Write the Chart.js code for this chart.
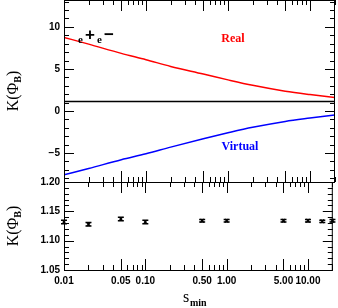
<!DOCTYPE html>
<html>
<head>
<meta charset="utf-8">
<script src="https://cdn.jsdelivr.net/npm/chart.js@4.4.1/dist/chart.umd.min.js"></script>
<style>
  body { margin: 0; background: #fff; }
  #wrap { position: relative; width: 338px; height: 308px; }
  canvas { position: absolute; left: 0; top: 0; }
</style>
</head>
<body>
<div id="wrap">
  <canvas id="topChart" width="338" height="308"></canvas>
  <canvas id="bottomChart" width="338" height="308"></canvas>
</div>
<script>
"use strict";

// Top panel: real and virtual parts vs s_min
var curveS = [0.01, 0.02, 0.05, 0.1, 0.2, 0.5, 1, 2, 5, 10, 20];
var realK = [8.75, 7.95, 6.85, 6.1, 5.3, 4.4, 3.7, 3.05, 2.35, 1.95, 1.6];
var virtualK = [-7.6, -6.85, -5.8, -5.1, -4.3, -3.3, -2.6, -1.95, -1.25, -0.85, -0.48];
var sumK = 1.13;

// Bottom panel: total with error bars
var pointS = [0.01, 0.02, 0.05, 0.1, 0.5, 1, 5, 10, 15, 20];
var pointK = [1.132, 1.128, 1.137, 1.132, 1.134, 1.134, 1.134, 1.134, 1.133, 1.134];
var pointErr = [0.003, 0.003, 0.003, 0.003, 0.002, 0.002, 0.002, 0.002, 0.002, 0.002];

// Tick labels
var xTickLabels = [0.01, 0.05, 0.1, 0.5, 1, 5, 10];
var topYTicks = [-5, 0, 5, 10];
var bottomYTicks = [1.05, 1.10, 1.15, 1.20];

var sMin = 0.01, sMax = 20.2;
var tickFont = { family: 'Liberation Sans', size: 10, weight: 'bold' };

function toXY(xs, ys) {
    return xs.map(function (x, i) { return { x: x, y: ys[i] }; });
}

// inward ticks on all four sides plus the frame
var frameTicks = {
    id: 'frameTicks',
    afterDatasetsDraw: function (chart, args, opts) {
        var ctx = chart.ctx, a = chart.chartArea;
        var xs = chart.scales.x, ys = chart.scales.y;
        ctx.save();
        ctx.strokeStyle = '#000';
        ctx.lineWidth = 1;
        function seg(x1, y1, x2, y2) {
            ctx.beginPath(); ctx.moveTo(x1, y1); ctx.lineTo(x2, y2); ctx.stroke();
        }
        for (var e = -3; e <= 2; e++) {
            for (var k = 1; k <= 9; k++) {
                var v = k * Math.pow(10, e);
                if (v < xs.min * 0.999 || v > xs.max) continue;
                var px = Math.round(xs.getPixelForValue(v)) + 0.5;
                var len = (k === 1 || k === 5) ? 11 : 5;
                seg(px, a.top, px, a.top + len);
                seg(px, a.bottom, px, a.bottom - len);
            }
        }
        var n0 = Math.ceil(ys.min / opts.minor - 1e-6);
        var n1 = Math.floor(ys.max / opts.minor + 1e-6);
        for (var i = n0; i <= n1; i++) {
            var yv = i * opts.minor;
            var r = yv / opts.major;
            var major = Math.abs(r - Math.round(r)) < 1e-6;
            var py = Math.round(ys.getPixelForValue(yv)) + 0.5;
            var l = major ? 10 : 5;
            seg(a.left, py, a.left + l, py);
            seg(a.right, py, a.right - l, py);
        }
        ctx.strokeRect(a.left + 0.5, a.top + 0.5, a.right - a.left - 1, a.bottom - a.top);
        ctx.restore();
    }
};

function drawYTitle(ctx, cx, cy) {
    ctx.save();
    ctx.translate(cx, cy);
    ctx.rotate(-Math.PI / 2);
    ctx.fillStyle = '#000';
    ctx.textBaseline = 'alphabetic';
    ctx.font = '16px "Liberation Serif"';
    var w1 = ctx.measureText('K(Φ').width;
    ctx.font = 'bold 10px "Liberation Serif"';
    var w2 = ctx.measureText('B').width;
    ctx.font = '16px "Liberation Serif"';
    var w3 = ctx.measureText(')').width;
    var x0 = -(w1 + w2 + w3) / 2;
    ctx.fillText('K(Φ', x0, 5);
    ctx.font = 'bold 10px "Liberation Serif"';
    ctx.fillText('B', x0 + w1, 8);
    ctx.font = '16px "Liberation Serif"';
    ctx.fillText(')', x0 + w1 + w2, 5);
    ctx.restore();
}

var topLabels = {
    id: 'topLabels',
    afterDraw: function (chart) {
        var ctx = chart.ctx;
        ctx.save();
        ctx.textBaseline = 'alphabetic';
        ctx.fillStyle = '#000';
        ctx.font = 'bold 11px "Liberation Serif"';
        ctx.fillText('e', 78, 43);
        ctx.fillText('e', 97, 43);
        ctx.font = 'bold 17px "Liberation Sans"';
        ctx.fillText('+', 85, 40);
        ctx.fillText('−', 104, 40);
        ctx.font = 'bold 12px "Liberation Serif"';
        ctx.textAlign = 'center';
        ctx.fillStyle = '#ff0000';
        ctx.fillText('Real', 233, 42);
        ctx.fillStyle = '#0000ff';
        ctx.fillText('Virtual', 240, 150);
        ctx.restore();
        drawYTitle(ctx, 13, 91);
    }
};

var bottomLabels = {
    id: 'bottomLabels',
    afterDatasetsDraw: function (chart) {
        var ctx = chart.ctx, xs = chart.scales.x, ys = chart.scales.y;
        ctx.save();
        ctx.strokeStyle = '#000';
        ctx.lineWidth = 1.5;
        pointS.forEach(function (s, i) {
            var px = xs.getPixelForValue(s);
            var y1 = ys.getPixelForValue(pointK[i] + pointErr[i]);
            var y2 = ys.getPixelForValue(pointK[i] - pointErr[i]);
            ctx.beginPath();
            ctx.moveTo(px, y1); ctx.lineTo(px, y2);
            ctx.moveTo(px - 3, y1); ctx.lineTo(px + 3, y1);
            ctx.moveTo(px - 3, y2); ctx.lineTo(px + 3, y2);
            ctx.stroke();
        });
        ctx.restore();
    },
    afterDraw: function (chart) {
        var ctx = chart.ctx;
        drawYTitle(ctx, 13, 226);
        ctx.save();
        ctx.fillStyle = '#000';
        ctx.textBaseline = 'alphabetic';
        ctx.font = '16px "Liberation Serif"';
        ctx.fillText('s', 183, 302);
        ctx.font = 'bold 10px "Liberation Serif"';
        ctx.fillText('min', 190, 306);
        ctx.restore();
    }
};

function noPad(scale) {
    scale.paddingTop = 0;
    scale.paddingBottom = 0;
    scale.paddingLeft = 0;
    scale.paddingRight = 0;
}

function yAxis(min, max, ticks, fmt) {
    return {
        min: min,
        max: max,
        afterFit: function (scale) { scale.width = 64; noPad(scale); },
        afterBuildTicks: function (scale) {
            scale.ticks = ticks.map(function (v) { return { value: v }; });
        },
        grid: { display: false, drawTicks: false },
        border: { display: false },
        ticks: {
            padding: 4,
            color: '#000',
            font: tickFont,
            autoSkip: false,
            callback: fmt
        }
    };
}

new Chart(document.getElementById('topChart'), {
    type: 'line',
    data: {
        datasets: [{
            data: toXY(curveS, realK),
            borderColor: '#ff0000',
            borderWidth: 1.5,
            pointRadius: 0,
            cubicInterpolationMode: 'monotone'
        }, {
            data: toXY(curveS, virtualK),
            borderColor: '#0000ff',
            borderWidth: 1.5,
            pointRadius: 0,
            cubicInterpolationMode: 'monotone'
        }, {
            data: toXY([sMin, sMax], [sumK, sumK]),
            borderColor: '#000',
            borderWidth: 1.5,
            pointRadius: 0
        }]
    },
    options: {
        responsive: false,
        animation: false,
        layout: { padding: { left: 0, top: 0, right: 3, bottom: 308 - 182 } },
        scales: {
            x: { type: 'logarithmic', min: sMin, max: sMax, display: false },
            y: yAxis(-8.45, 13.2, topYTicks, function (v) {
                return v < 0 ? '−' + Math.abs(v) : String(v);
            })
        },
        plugins: {
            legend: { display: false },
            tooltip: { enabled: false },
            frameTicks: { minor: 1, major: 5 }
        }
    },
    plugins: [frameTicks, topLabels]
});

new Chart(document.getElementById('bottomChart'), {
    type: 'scatter',
    data: {
        datasets: [{
            data: toXY(pointS, pointK),
            pointStyle: 'crossRot',
            pointRadius: 2.5,
            borderColor: '#000',
            borderWidth: 1.2,
            clip: false
        }]
    },
    options: {
        responsive: false,
        animation: false,
        layout: { padding: { left: 0, top: 182, right: 3, bottom: 0 } },
        scales: {
            x: {
                type: 'logarithmic',
                min: sMin,
                max: sMax,
                afterFit: function (scale) { scale.height = 38; noPad(scale); },
                afterBuildTicks: function (scale) {
                    scale.ticks = xTickLabels.map(function (v) { return { value: v }; });
                },
                grid: { display: false, drawTicks: false },
                border: { display: false },
                ticks: {
                    padding: 5,
                    color: '#000',
                    font: tickFont,
                    autoSkip: false,
                    maxRotation: 0,
                    callback: function (v) { return Number(v).toFixed(2); }
                }
            },
            y: yAxis(1.05, 1.20, bottomYTicks, function (v) { return Number(v).toFixed(2); })
        },
        plugins: {
            legend: { display: false },
            tooltip: { enabled: false },
            frameTicks: { minor: 0.01, major: 0.05 }
        }
    },
    plugins: [frameTicks, bottomLabels]
});
</script>
</body>
</html>
